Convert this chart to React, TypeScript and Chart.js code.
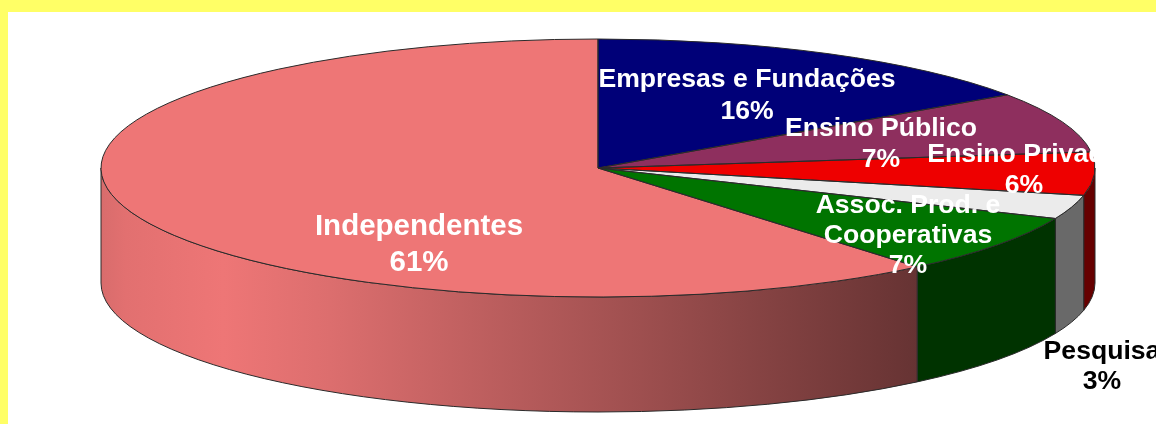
import React, { useEffect, useRef } from "react";
import { Chart, registerables } from "chart.js";

Chart.register(...registerables);

const categories = ["Empresas e Fundações", "Ensino Público", "Ensino Privado", "Pesquisa", "Assoc. Prod. e Cooperativas", "Independentes"];
const shares = [15.4, 7.6, 5.4, 3.0, 7.5, 61.1];
const percentLabels = ["16%", "7%", "6%", "3%", "7%", "61%"];
const topColors = ["#000078", "#8e2f5e", "#ee0000", "#ebebeb", "#007400", "#ee7676"];
const wallColors = ["#000040", "#4c1932", "#660000", "#696969", "#003300", "#663333"];

const FRAME = "#ffff66";
const WIDTH = 1156;
const HEIGHT = 424;
const RADIUS = 497;
const SQUASH = 129 / 497;
const DEPTH = 115;
const EDGE = "#2a2a2a";

type LabelSpec = { cat: number; x: number; ys: number[]; lines: string[]; size: number; color: string };
const labelSpecs: LabelSpec[] = [
  { cat: 5, x: 419, ys: [227, 263], lines: ["Independentes"], size: 29.5, color: "#ffffff" },
  { cat: 0, x: 747, ys: [80, 112], lines: ["Empresas e Fundações"], size: 26.6, color: "#ffffff" },
  { cat: 1, x: 881, ys: [129, 160], lines: ["Ensino Público"], size: 26.6, color: "#ffffff" },
  { cat: 2, x: 1024, ys: [155, 186], lines: ["Ensino Privado"], size: 26.6, color: "#ffffff" },
  { cat: 4, x: 908, ys: [206, 236, 266], lines: ["Assoc. Prod. e", "Cooperativas"], size: 26.6, color: "#ffffff" },
  { cat: 3, x: 1102, ys: [352, 382], lines: ["Pesquisa"], size: 26.6, color: "#000000" },
];

function indepGradient(ctx: CanvasRenderingContext2D, cx: number) {
  const x0 = cx - RADIUS;
  const x1 = x0 + 817;
  const g = ctx.createLinearGradient(x0, 0, x1, 0);
  g.addColorStop(0, "#d86c6c");
  g.addColorStop(0.03, "#e27070");
  g.addColorStop(0.15, "#ee7676");
  g.addColorStop(0.28, "#dc6e6e");
  g.addColorStop(0.6, "#a85454");
  g.addColorStop(1, "#663333");
  return g;
}

const pie3d = {
  id: "pie3d",
  beforeDatasetsDraw(chart: any) {
    const ctx: CanvasRenderingContext2D = chart.ctx;
    const arcs = chart.getDatasetMeta(0).data;
    const cx = arcs[0].x;
    const cy = arcs[0].y;
    ctx.save();
    ctx.lineWidth = 1;
    ctx.strokeStyle = EDGE;
    arcs.forEach((arc: any, i: number) => {
      const ry = RADIUS * SQUASH;
      const norm = (a: number) => {
        let v = a % (2 * Math.PI);
        if (v < 0) v += 2 * Math.PI;
        return v;
      };
      let a0 = norm(arc.startAngle);
      let a1 = norm(arc.endAngle);
      if (a1 < a0) a1 += 2 * Math.PI;
      const segments: [number, number][] = [[a0, Math.min(a1, Math.PI)]];
      if (a1 > 2 * Math.PI) segments.push([2 * Math.PI, Math.min(a1, 3 * Math.PI)]);
      segments.forEach(([s, e]) => {
        if (e <= s || (s >= Math.PI && s < 2 * Math.PI)) return;
        ctx.beginPath();
        ctx.ellipse(cx, cy, RADIUS, ry, 0, s, e);
        ctx.ellipse(cx, cy + DEPTH, RADIUS, ry, 0, e, s, true);
        ctx.closePath();
        ctx.fillStyle = i === 5 ? indepGradient(ctx, cx) : wallColors[i];
        ctx.fill();
        ctx.stroke();
      });
    });
    ctx.restore();
    ctx.save();
    ctx.translate(cx, cy);
    ctx.scale(1, SQUASH);
    ctx.translate(-cx, -cy);
  },
  afterDatasetsDraw(chart: any) {
    const ctx: CanvasRenderingContext2D = chart.ctx;
    const arcs = chart.getDatasetMeta(0).data;
    // build outlines in squashed space, stroke with an even pen
    arcs.forEach((arc: any) => {
      ctx.beginPath();
      ctx.moveTo(arc.x, arc.y);
      ctx.arc(arc.x, arc.y, arc.outerRadius, arc.startAngle, arc.endAngle);
      ctx.closePath();
      ctx.save();
      ctx.setTransform(1, 0, 0, 1, 0, 0);
      ctx.lineWidth = 1;
      ctx.strokeStyle = EDGE;
      ctx.stroke();
      ctx.restore();
    });
    ctx.restore();
  },
  afterDraw(chart: any) {
    const ctx: CanvasRenderingContext2D = chart.ctx;
    ctx.save();
    ctx.textAlign = "center";
    ctx.textBaseline = "middle";
    labelSpecs.forEach((spec) => {
      ctx.font = `bold ${spec.size}px "Liberation Sans", Arial, sans-serif`;
      ctx.fillStyle = spec.color;
      const lines = [...spec.lines, percentLabels[spec.cat]];
      lines.forEach((line, i) => ctx.fillText(line, spec.x, spec.ys[i]));
    });
    ctx.restore();
  },
};

export default function App() {
  const ref = useRef<HTMLCanvasElement | null>(null);
  useEffect(() => {
    document.body.style.margin = "0";
    const chart = new Chart(ref.current as HTMLCanvasElement, {
      type: "pie",
      data: {
        labels: categories,
        datasets: [{ data: shares, backgroundColor: topColors, borderWidth: 0, clip: false } as any],
      },
      options: {
        animation: false,
        responsive: false,
        radius: RADIUS,
        layout: { padding: { left: 40, right: 0, top: 0, bottom: 88 } },
        plugins: { legend: { display: false }, tooltip: { enabled: false } },
      } as any,
      plugins: [pie3d],
    });
    return () => chart.destroy();
  }, []);
  return (
    <div style={{ position: "relative", width: WIDTH, height: HEIGHT, background: "#ffffff", overflow: "hidden" }}>
      <div style={{ position: "absolute", left: 0, top: 0, width: WIDTH, height: 12, background: FRAME }} />
      <div style={{ position: "absolute", left: 0, top: 0, width: 8, height: HEIGHT, background: FRAME }} />
      <canvas ref={ref} width={WIDTH} height={HEIGHT} style={{ position: "absolute", left: 0, top: 0, display: "block" }} />
    </div>
  );
}
